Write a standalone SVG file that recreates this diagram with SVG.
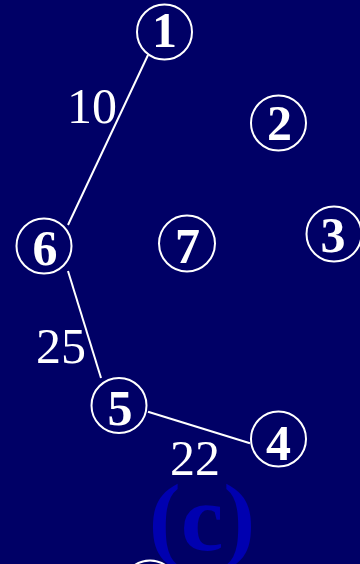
<svg xmlns="http://www.w3.org/2000/svg" width="360" height="564" viewBox="0 0 360 564">
<style>
.node circle{fill:none;stroke:#fff;stroke-width:2}
.node text{fill:#fff;font-family:"Liberation Serif","Times New Roman",serif;font-weight:bold;font-size:50px;text-anchor:middle}
.edges line{stroke:#fff;stroke-width:2}
.lbl{fill:#fff;font-family:"Liberation Serif","Times New Roman",serif;font-size:50px;text-anchor:middle}
.cap{fill:#0000b0;font-family:"Liberation Serif","Times New Roman",serif;font-weight:bold;font-size:96px;text-anchor:middle}
</style>
<rect width="360" height="564" fill="#000066"/>
<text class="cap" x="202" y="550">(c)</text>
<g id="edges" class="edges">
<line x1="148" y1="55" x2="68" y2="225"/>
<line x1="68" y1="271" x2="101" y2="378"/>
<line x1="148" y1="411.7" x2="250" y2="443.3"/>
</g>
<text class="lbl" x="92" y="123">10</text>
<text class="lbl" x="61" y="363">25</text>
<text class="lbl" x="195" y="475">22</text>
<g id="n1" class="node"><circle cx="164.5" cy="32" r="27.5"/><text x="164.5" y="47">1</text></g>
<g id="n2" class="node"><circle cx="278.5" cy="123" r="27.5"/><text x="279.5" y="140">2</text></g>
<g id="n3" class="node"><circle cx="334" cy="234" r="27.5"/><text x="333" y="252">3</text></g>
<g id="n4" class="node"><circle cx="278.5" cy="439" r="27.5"/><text x="278.5" y="460">4</text></g>
<g id="n5" class="node"><circle cx="119" cy="405.5" r="27.5"/><text x="120" y="425">5</text></g>
<g id="n6" class="node"><circle cx="44" cy="246" r="27.5"/><text x="45" y="265">6</text></g>
<g id="n7" class="node"><circle cx="187" cy="243.5" r="28"/><text x="187.5" y="263">7</text></g>
<g id="n8" class="node"><circle cx="150" cy="588" r="27.5"/></g>
</svg>
